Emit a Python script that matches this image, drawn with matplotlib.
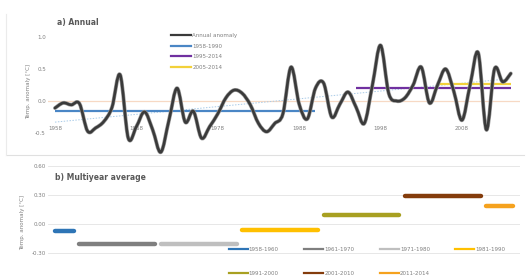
import numpy as np
import matplotlib
matplotlib.use("Agg")
import matplotlib.pyplot as plt
from matplotlib.path import Path
from matplotlib.patches import PathPatch
from matplotlib.lines import Line2D
import matplotlib.patheffects as pe

# ---------------- data ----------------
years = list(range(1958, 2015))
anomaly = [-0.11, -0.03, -0.06, -0.04, -0.47, -0.42, -0.32, -0.10, 0.41, -0.58,
           -0.40, -0.17, -0.45, -0.80, -0.30, 0.20, -0.33, -0.16, -0.58, -0.40,
           -0.20, 0.05, 0.17, 0.12, -0.06, -0.35, -0.48, -0.35, -0.20, 0.53,
           -0.05, -0.28, 0.20, 0.28, -0.25, -0.05, 0.14, -0.10, -0.35, 0.25,
           0.87, 0.12, 0.00, 0.05, 0.25, 0.53, -0.03, 0.25, 0.50, 0.15,
           -0.30, 0.25, 0.75, -0.45, 0.50, 0.30, 0.43]

mean_labels = ["1958-1990", "1995-2014", "2005-2014"]
mean_start = [1958, 1995, 2005]
mean_end = [1990, 2014, 2014]
mean_value = [-0.16, 0.20, 0.27]

trend_years = [1958, 2014]
trend_values = [-0.33, 0.35]

top_yticks = [-0.5, 0.0, 0.5, 1.0]
top_yticklabels = ["-0.5", "0.0", "0.5", "1.0"]
top_xticks = [1958, 1968, 1978, 1988, 1998, 2008]

period_labels = ["1958-1960", "1961-1970", "1971-1980", "1981-1990",
                 "1991-2000", "2001-2010", "2011-2014"]
period_start = [1958, 1961, 1971, 1981, 1991, 2001, 2011]
period_end = [1960, 1970, 1980, 1990, 2000, 2010, 2014]
period_mean = [-0.07, -0.21, -0.21, -0.06, 0.09, 0.29, 0.19]

bot_yticks = [-0.6, -0.3, 0.0, 0.3, 0.6]
bot_yticklabels = ["-0.60", "-0.30", "0.00", "0.30", "0.60"]

# ---------------- styles ----------------
mean_colors = ["#4A86C5", "#7030A0", "#F2D13A"]
period_colors = ["#2E75B6", "#7F7F7F", "#BFBFBF", "#FFC000",
                 "#A8A021", "#843C0C", "#F5A21E"]
txt_gray = "#7F7F7F"
title_gray = "#595959"

W, H = 526, 280
fig = plt.figure(figsize=(W / 100, H / 100), dpi=100)
fig.patch.set_facecolor("white")

def px_axes(left, right, top, bottom):
    return [left / W, 1 - bottom / H, (right - left) / W, (bottom - top) / H]

xlim = (1957.14, 2015.13)

# ---------------- top panel ----------------
ax1 = fig.add_axes(px_axes(48, 520, 27.4, 155.4))
ax1.set_xlim(*xlim)
ax1.set_ylim(-0.85, 1.15)
for s in ax1.spines.values():
    s.set_visible(False)
ax1.spines["bottom"].set_position(("data", -0.36))
ax1.set_xticks(top_xticks)
ax1.set_xticklabels([str(y) for y in top_xticks])
ax1.set_yticks(top_yticks)
ax1.set_yticklabels(top_yticklabels)
ax1.tick_params(axis="both", length=0, labelsize=4, labelcolor=txt_gray, pad=1.5)
ax1.set_ylabel("Temp. anomaly [°C]", fontsize=4, color=txt_gray, labelpad=3)

# faint zero line and trend
ax1.axhline(0.0, color="#F7D9C4", lw=0.9, zorder=1)
ax1.plot(trend_years, trend_values, color="#A9CBE8", lw=0.7, ls=(0, (1.5, 1.5)), zorder=1)

# mean lines
for lab, s, e, v, c in zip(mean_labels, mean_start, mean_end, mean_value, mean_colors):
    ax1.plot([s, e], [v, v], color=c, lw=1.6, zorder=2, solid_capstyle="butt")

# smoothed annual curve (cubic Bezier through the yearly points)
x = np.array(years, dtype=float)
y = np.array(anomaly, dtype=float)
n = len(x)
verts = [(x[0], y[0])]
codes = [Path.MOVETO]
for i in range(n - 1):
    p0 = np.array([x[max(i - 1, 0)], y[max(i - 1, 0)]])
    p1 = np.array([x[i], y[i]])
    p2 = np.array([x[i + 1], y[i + 1]])
    p3 = np.array([x[min(i + 2, n - 1)], y[min(i + 2, n - 1)]])
    c1 = p1 + (p2 - p0) / 6.0
    c2 = p2 - (p3 - p1) / 6.0
    verts += [tuple(c1), tuple(c2), tuple(p2)]
    codes += [Path.CURVE4] * 3
curve = PathPatch(Path(verts, codes), fill=False, edgecolor="#3A3A3A", lw=1.9,
                  zorder=3, capstyle="round", joinstyle="round")
curve.set_path_effects([pe.Stroke(linewidth=2.8, foreground="#9A9A9A"), pe.Normal()])
ax1.add_patch(curve)

handles = [Line2D([], [], color="#3A3A3A", lw=1.6)] + \
          [Line2D([], [], color=c, lw=1.6) for c in mean_colors]
labels = ["Annual anomaly"] + mean_labels
leg1 = ax1.legend(handles, labels, loc="upper left",
                  bbox_to_anchor=(168 / W, 1 - 30 / H), bbox_transform=fig.transFigure,
                  frameon=False, fontsize=4, handlelength=3.6, handletextpad=0.3,
                  labelspacing=1.05, borderpad=0)
for t in leg1.get_texts():
    t.set_color(txt_gray)

fig.text(57 / W, 1 - 23 / H, "a) Annual", fontsize=5.5, fontweight="bold",
         color=title_gray, va="center", ha="left")

# ---------------- bottom panel ----------------
ax2 = fig.add_axes(px_axes(48, 520, 160.2, 284.0))
ax2.set_xlim(*xlim)
ax2.set_ylim(-0.62, 0.66)
for s in ax2.spines.values():
    s.set_visible(False)
ax2.set_xticks([])
ax2.set_yticks(bot_yticks)
ax2.set_yticklabels(bot_yticklabels)
ax2.tick_params(axis="y", length=0, labelsize=4, labelcolor=txt_gray, pad=1.5)
ax2.yaxis.grid(True, color="#E3E3E3", lw=0.6)
ax2.set_axisbelow(True)
ax2.set_ylabel("Temp. anomaly [°C]", fontsize=4, color=txt_gray, labelpad=5)

for lab, s, e, v, c in zip(period_labels, period_start, period_end, period_mean, period_colors):
    ax2.plot([s, e + 0.3], [v, v], color=c, lw=3.2, solid_capstyle="round",
             zorder=3, label=lab)

# legend laid out row by row (4 columns, 2 rows)
order = [0, 4, 1, 5, 2, 6, 3]
leg_handles = [Line2D([], [], color=period_colors[i], lw=1.6) for i in order]
leg_labels = [period_labels[i] for i in order]
leg2 = fig.legend(leg_handles, leg_labels, loc="upper left",
                  bbox_to_anchor=(226 / W, 1 - 244 / H), frameon=False, ncol=4,
                  fontsize=4, handlelength=3.4, handletextpad=0.2,
                  columnspacing=4.6, labelspacing=3.4, borderpad=0)
for t in leg2.get_texts():
    t.set_color(txt_gray)

fig.text(55 / W, 1 - 177 / H, "b) Multiyear average", fontsize=5.5, fontweight="bold",
         color=title_gray, va="center", ha="left")

# chart borders
fig.add_artist(Line2D([6 / W, 524 / W], [1 - 155 / H, 1 - 155 / H], color="#E0E0E0", lw=0.8))
fig.add_artist(Line2D([6 / W, 6 / W], [1 - 14 / H, 1 - 155 / H], color="#EBEBEB", lw=0.8))

fig.savefig("out.png", dpi=100, facecolor="white")
